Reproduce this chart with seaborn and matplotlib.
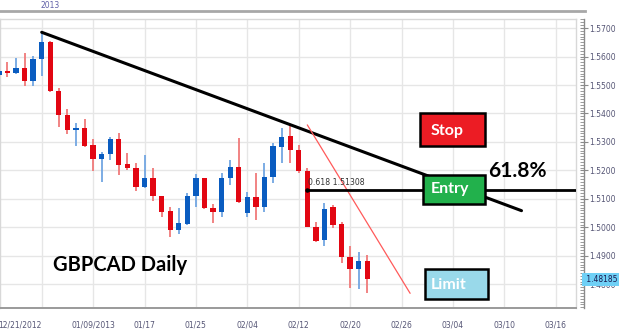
import numpy as np
import pandas as pd
import matplotlib
matplotlib.use("Agg")
import matplotlib.pyplot as plt
import matplotlib.transforms as mtransforms
from matplotlib.patches import Rectangle
from matplotlib.ticker import MultipleLocator, FixedLocator
import seaborn as sns

# ---------------- data ----------------
bar_index = list(range(-5, 39))
opens = [1.5534, 1.5550, 1.5541, 1.5559, 1.5515, 1.5590, 1.5652, 1.5480, 1.5395, 1.5342,
         1.5348, 1.5289, 1.5240, 1.5258, 1.5309, 1.5222, 1.5210, 1.5141, 1.5173, 1.5111,
         1.5058, 1.4991, 1.5012, 1.5111, 1.5173, 1.5069, 1.5053, 1.5173, 1.5211, 1.5050,
         1.5106, 1.5073, 1.5176, 1.5282, 1.5321, 1.5272, 1.5198, 1.5003, 1.4956, 1.5071,
         1.5011, 1.4898, 1.4853, 1.4884]
highs = [1.5553, 1.5582, 1.5594, 1.5613, 1.5602, 1.5684, 1.5654, 1.5488, 1.5416, 1.5367,
         1.5381, 1.5312, 1.5266, 1.5319, 1.5331, 1.5262, 1.5227, 1.5254, 1.5210, 1.5112,
         1.5073, 1.5067, 1.5122, 1.5188, 1.5174, 1.5082, 1.5192, 1.5237, 1.5313, 1.5126,
         1.5190, 1.5225, 1.5298, 1.5348, 1.5360, 1.5289, 1.5208, 1.5020, 1.5085, 1.5079,
         1.5020, 1.4935, 1.4915, 1.4904]
lows = [1.5532, 1.5529, 1.5540, 1.5496, 1.5498, 1.5533, 1.5477, 1.5354, 1.5328, 1.5287,
        1.5284, 1.5198, 1.5161, 1.5237, 1.5184, 1.5202, 1.5129, 1.5140, 1.5094, 1.5036,
        1.4968, 1.4977, 1.5009, 1.5073, 1.5066, 1.5015, 1.5038, 1.5149, 1.5085, 1.5038,
        1.5026, 1.5055, 1.5155, 1.5225, 1.5225, 1.5190, 1.5000, 1.4950, 1.4935, 1.4997,
        1.4874, 1.4787, 1.4783, 1.4769]
closes = [1.5550, 1.5543, 1.5559, 1.5515, 1.5591, 1.5652, 1.5479, 1.5394, 1.5342, 1.5348,
          1.5287, 1.5242, 1.5258, 1.5309, 1.5219, 1.5210, 1.5143, 1.5173, 1.5111, 1.5055,
          1.4991, 1.5015, 1.5111, 1.5173, 1.5067, 1.5053, 1.5173, 1.5211, 1.5091, 1.5106,
          1.5073, 1.5178, 1.5286, 1.5319, 1.5272, 1.5198, 1.5001, 1.4954, 1.5064, 1.5009,
          1.4898, 1.4853, 1.4884, 1.48185]

date_labels = ["12/21/2012", "01/09/2013", "01/17", "01/25", "02/04", "02/12",
               "02/20", "02/26", "03/04", "03/10", "03/16"]
date_label_index = [0, 6, 12, 18, 24, 30, 36, 42, 48, 54, 60]
price_ticks = [1.57, 1.56, 1.55, 1.54, 1.53, 1.52, 1.51, 1.50, 1.49, 1.48]
top_major_index = [0.97]
top_minor_index = [8.8, 16.6, 24.4, 32.2, 40.0, 47.8, 55.7]
top_label = "2013"

trend_x = [0, 56]
trend_y = [1.5685, 1.5059]
red_x = [31, 43]
red_y = [1.5360, 1.4769]
fib_start = 31
fib_level = 1.51308
fib_ratio = "0.618"
last_price = 1.48185

# ---------------- layout ----------------
W, H = 624, 333
sns.set_style("white")
plt.rcParams["font.family"] = ["DejaVu Sans"]

fig = plt.figure(figsize=(W / 100, H / 100), dpi=100, facecolor="white")
px_bar = 8.568
x_left = -4.867
plot_l, plot_r, plot_t, plot_b = 0, 576, 19, 308
ylo, yhi = 1.47175, 1.57316

ax = fig.add_axes([plot_l / W, (H - plot_b) / H, (plot_r - plot_l) / W, (plot_b - plot_t) / H])
ax.set_xlim(x_left, x_left + (plot_r - plot_l) / px_bar)
ax.set_ylim(ylo, yhi)

df = pd.DataFrame({"idx": bar_index, "open": opens, "high": highs, "low": lows, "close": closes})
df["up"] = df["close"] >= df["open"]
df["bottom"] = df[["open", "close"]].min(axis=1)
df["height"] = (df["close"] - df["open"]).abs().clip(lower=0.00025)

red_body, blue_body = "#e20612", "#0a5cc0"
red_wick, blue_wick = "#f07a7a", "#72a6e2"

ax.vlines(df["idx"], df["low"], df["high"],
          colors=np.where(df["up"], blue_wick, red_wick), lw=1.3, zorder=2)
ax.bar(df["idx"], df["height"], bottom=df["bottom"], width=0.62,
       color=np.where(df["up"], blue_body, red_body), linewidth=0, zorder=3)

# grid
ax.set_yticks(price_ticks)
ax.set_xticks(date_label_index)
ax.xaxis.set_minor_locator(MultipleLocator(1))
ax.grid(True, which="major", color="#e6e6e6", lw=1.0, zorder=0)
ax.set_axisbelow(True)
ax.set_xticklabels(date_labels)
ax.tick_params(axis="y", left=False, labelleft=False)
ax.tick_params(axis="x", which="major", direction="out", length=5.5, width=0.8,
               color="#8a8a8a", labelsize=5.5, labelcolor="#555575", pad=3.5)
ax.tick_params(axis="x", which="minor", direction="out", length=2.5, width=0.8, color="#8a8a8a")
first = ax.get_xticklabels()[0]
first.set_horizontalalignment("right")
for side in ["top", "left", "right"]:
    ax.spines[side].set_color("#d8d8d8")
    ax.spines[side].set_linewidth(1.0)
ax.spines["bottom"].set_color("#9a9a9a")
ax.spines["bottom"].set_linewidth(1.4)

# lines
sns.lineplot(x=trend_x, y=trend_y, ax=ax, color="black", lw=2.2, zorder=4)
sns.lineplot(x=red_x, y=red_y, ax=ax, color="#ff5a5a", lw=0.9, zorder=4)
ax.plot([fib_start, ax.get_xlim()[1]], [fib_level, fib_level], color="black", lw=2.0, zorder=4,
        solid_capstyle="butt")
ax.scatter([fib_start], [fib_level], s=5, color="black", zorder=5)
ax.text(fib_start + 0.1, fib_level + 0.0011, f"{fib_ratio} {fib_level:.5f}", fontsize=5.6,
        color="#333333", ha="left", va="bottom", zorder=6)

# boxes
bold_font = ["Lato", "DejaVu Sans"]
boxes = [
    ("Stop", "#ec1c24", 44.1, 51.7, 1.5286, 1.5401, 1.53246),
    ("Entry", "#22b14c", 44.5, 51.7, 1.5081, 1.5184, 1.5120),
    ("Limit", "#99d9ea", 44.7, 52.1, 1.4748, 1.4854, 1.47832),
]
for label, fc, x0, x1, y0, y1, base in boxes:
    ax.add_patch(Rectangle((x0, y0), x1 - x0, y1 - y0, facecolor=fc, edgecolor="black",
                           lw=1.8, zorder=7))
    ax.text(45.4, base, label, color="white", fontsize=11.5, fontweight="bold",
            family=bold_font, ha="left", va="baseline", zorder=8)

ax.text(52.1, 1.51762, "61.8%", fontsize=15, fontweight="bold", family=bold_font,
        color="black", ha="left", va="baseline", zorder=8)
ax.text(1.3, 1.48474, "GBPCAD Daily", fontsize=14.5, fontweight="bold", family=bold_font,
        color="black", ha="left", va="baseline", zorder=8)

# right price axis
rax = fig.add_axes([0, (H - plot_b) / H, 584 / W, (plot_b - plot_t) / H])
rax.patch.set_visible(False)
rax.set_ylim(ylo, yhi)
rax.set_xticks([])
for side in ["top", "left", "bottom"]:
    rax.spines[side].set_visible(False)
rax.spines["right"].set_color("#8a8a8a")
rax.spines["right"].set_linewidth(1.0)
rax.yaxis.tick_right()
rax.set_yticks(price_ticks)
rax.set_yticklabels([f"{p:.4f}" for p in price_ticks])
rax.yaxis.set_minor_locator(MultipleLocator(0.001))
rax.tick_params(axis="y", which="major", direction="inout", length=6, width=0.8,
                color="#8a8a8a", labelsize=5.5, labelcolor="#555575", pad=1)
rax.tick_params(axis="y", which="minor", direction="in", length=3, width=0.6, color="#8a8a8a")
trans = mtransforms.blended_transform_factory(rax.transAxes, rax.transData)
rax.text(1.0, last_price, f" {last_price:.5f}", transform=trans, fontsize=5.5, color="#1a1a50",
         ha="left", va="center", zorder=10,
         bbox=dict(boxstyle="square,pad=0.25", fc="#6fd0f6", ec="none"))

# top time axis
tax = fig.add_axes([0, (H - 11) / H, 585 / W, 8 / H])
tax.patch.set_visible(False)
tax.set_xlim(x_left, x_left + 585 / px_bar)
tax.set_ylim(0, 1)
tax.set_yticks([])
for side in ["top", "left", "right"]:
    tax.spines[side].set_visible(False)
tax.spines["bottom"].set_color("#a8a8a8")
tax.spines["bottom"].set_linewidth(2)
tax.xaxis.set_major_locator(FixedLocator(top_major_index))
tax.xaxis.set_minor_locator(FixedLocator(top_minor_index))
tax.tick_params(axis="x", which="major", direction="out", length=6.5, width=0.9, color="#808080",
                labelbottom=False)
tax.tick_params(axis="x", which="minor", direction="out", length=1.5, width=0.8, color="#808080")
tax.text(top_major_index[0], 0.75, top_label, fontsize=5.5, color="#6060a8",
         ha="center", va="center")

fig.savefig("out.png", dpi=100, facecolor="white")
